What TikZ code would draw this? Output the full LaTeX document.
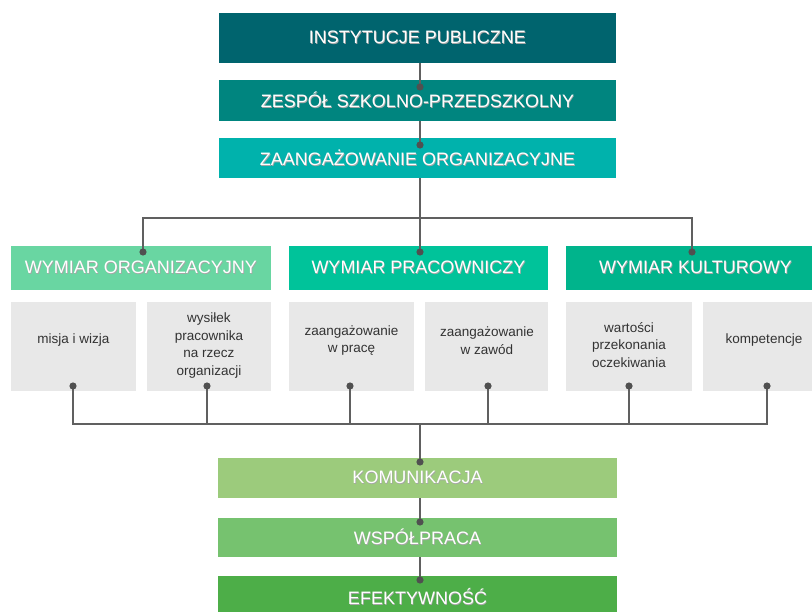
\documentclass[tikz,border=0pt]{standalone}
\usepackage{fontspec}
\setmainfont{Liberation Sans}
\usetikzlibrary{calc}
\definecolor{cT1}{HTML}{00646E}
\definecolor{cT2}{HTML}{00857F}
\definecolor{cT3}{HTML}{00B2AC}
\definecolor{cH1}{HTML}{69D6A2}
\definecolor{cH2}{HTML}{00C39A}
\definecolor{cH3}{HTML}{00B48C}
\definecolor{cG}{HTML}{E8E8E8}
\definecolor{cB1}{HTML}{9CCB7C}
\definecolor{cB2}{HTML}{76C26F}
\definecolor{cB3}{HTML}{4DAE48}
\definecolor{cLine}{HTML}{606060}
\definecolor{cDot}{HTML}{505050}
\definecolor{cTxt}{HTML}{333333}
\newcommand\shtxt[1]{\leavevmode\rlap{\hspace{0.7pt}\raisebox{-0.7pt}{\textcolor{black!35}{#1}}}#1}
\tikzset{
  bar/.style={draw=none, inner sep=0pt, text=white, font=\fontsize{18}{20}\selectfont},
  graybox/.style={draw=none, fill=cG, inner sep=0pt, minimum height=89pt},
  graytext/.style={text=cTxt, align=center, inner sep=0pt, font=\fontsize{13.5}{17.5}\selectfont},
  conn/.style={draw=cLine, line width=2.3pt},
  dotc/.style={fill=cDot},
}
\begin{document}
\begin{tikzpicture}[x=1pt,y=-1pt]
\useasboundingbox (0,0) rectangle (812,612);
\clip (0,0) rectangle (812,612);
\fill[white] (0,0) rectangle (812,612);
% top chain
\node[bar, fill=cT1, minimum width=397pt, minimum height=50pt] (t1) at (417.5,38) {\shtxt{INSTYTUCJE PUBLICZNE}};
\node[bar, fill=cT2, minimum width=397pt, minimum height=41pt] (t2) at (417.5,100.5) {\shtxt{ZESPÓŁ SZKOLNO-PRZEDSZKOLNY}};
\node[bar, fill=cT3, minimum width=397pt, minimum height=40pt] (t3) at (417.5,158) {\shtxt{ZAANGAŻOWANIE ORGANIZACYJNE}};
% headers
\node[bar, fill=cH1, minimum width=260pt, minimum height=44pt] (h1) at (141,268) {\shtxt{WYMIAR ORGANIZACYJNY}};
\node[bar, fill=cH2, minimum width=259pt, minimum height=44pt] (h2) at (418.5,268) {\shtxt{WYMIAR PRACOWNICZY}};
\node[bar, fill=cH3, minimum width=259pt, minimum height=44pt] (h3) at (695.5,268) {\shtxt{WYMIAR KULTUROWY}};
% gray boxes
\node[graybox, minimum width=125pt] (g1) at (73.5,346.5) {};
\node[graybox, minimum width=124pt] (g2) at (209,346.5) {};
\node[graybox, minimum width=125pt] (g3) at (351.5,346.5) {};
\node[graybox, minimum width=123pt] (g4) at (486.5,346.5) {};
\node[graybox, minimum width=126pt] (g5) at (629,346.5) {};
\node[graybox, minimum width=123pt] (g6) at (764.5,346.5) {};
\node[graytext] (g1t) at (73.5,340) {misja i wizja};
\node[graytext] (g2t) at (209,345.5) {wysiłek\\pracownika\\na rzecz\\organizacji};
\node[graytext] (g3t) at (351.5,340.5) {zaangażowanie\\w pracę};
\node[graytext] (g4t) at (487,340.5) {zaangażowanie\\w zawód};
\node[graytext] (g5t) at (629,345) {wartości\\przekonania\\oczekiwania};
\node[graytext] (g6t) at (764,340) {kompetencje};
% bottom chain
\node[bar, fill=cB1, minimum width=399pt, minimum height=40pt] (b1) at (417.5,478) {\shtxt{KOMUNIKACJA}};
\node[bar, fill=cB2, minimum width=399pt, minimum height=39pt] (b2) at (417.5,537.5) {\shtxt{WSPÓŁPRACA}};
\node[bar, fill=cB3, minimum width=399pt, minimum height=42pt] (b3) at (417.5,597) {\shtxt{EFEKTYWNOŚĆ}};
% connector points
\coordinate (dT2) at (420,87);
\coordinate (dT3) at (420,145);
\coordinate (dH1) at (143,252);
\coordinate (dH2) at (420,252);
\coordinate (dH3) at (692,252);
\coordinate (dG1) at (73,386);
\coordinate (dG2) at (207,386);
\coordinate (dG3) at (350,386);
\coordinate (dG4) at (488,386);
\coordinate (dG5) at (629,386);
\coordinate (dG6) at (767,386);
\coordinate (dB1) at (420,462);
\coordinate (dB2) at (420,522);
\coordinate (dB3) at (420,580);
\coordinate (busT) at (0,218);
\coordinate (busB) at (0,424);
% connectors
\draw[conn] (t1.south -| dT2) -- (dT2);
\draw[conn] (t2.south -| dT3) -- (dT3);
\draw[conn] (t3.south -| dH2) -- (dH2);
\draw[conn] (dH1) -- (dH1 |- busT) -- (dH3 |- busT) -- (dH3);
\draw[conn] (dG1) -- (dG1 |- busB) -- (dG6 |- busB) -- (dG6);
\foreach \d in {dG2,dG3,dG4,dG5} \draw[conn] (\d) -- (\d |- busB);
\draw[conn] (dB1 |- busB) -- (dB1);
\draw[conn] (b1.south -| dB2) -- (dB2);
\draw[conn] (b2.south -| dB3) -- (dB3);
\foreach \d in {dT2,dT3,dH1,dH2,dH3,dG1,dG2,dG3,dG4,dG5,dG6,dB1,dB2,dB3}
  \fill[dotc] (\d) circle (3.6pt);
\end{tikzpicture}
\end{document}
